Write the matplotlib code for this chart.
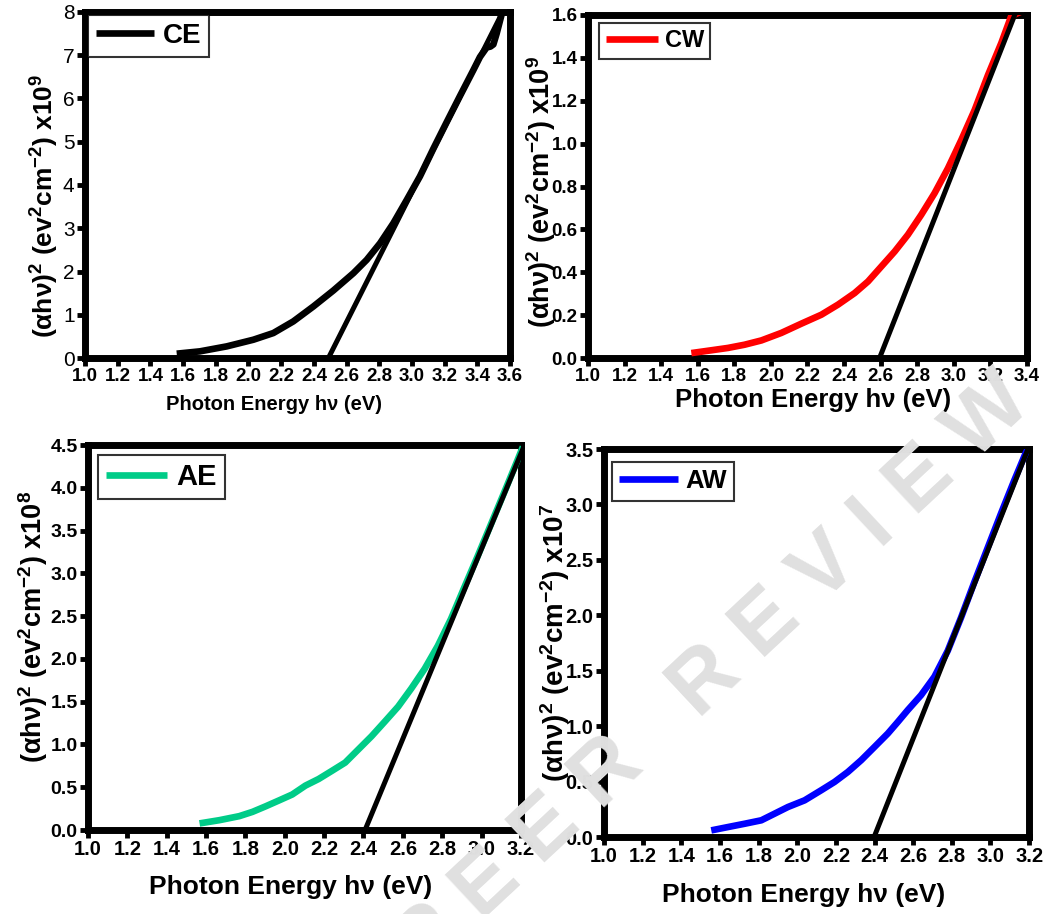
import matplotlib
matplotlib.use("Agg")
import matplotlib.pyplot as plt
import numpy as np

plt.rcParams['font.family'] = ['Liberation Sans', 'DejaVu Sans']
plt.rcParams['mathtext.default'] = 'regular'

# ---------------- data ----------------
ce_x = [1.561, 1.703, 1.867, 2.030, 2.152, 2.274, 2.397, 2.519, 2.642, 2.723, 2.805, 2.886, 2.968,
        3.049, 3.131, 3.212, 3.294, 3.376, 3.416, 3.457, 3.480, 3.498, 3.518, 3.549]
ce_y = [0.10, 0.154, 0.269, 0.423, 0.577, 0.846, 1.192, 1.56, 1.962, 2.269, 2.654, 3.115, 3.654,
        4.20, 4.84, 5.45, 6.06, 6.66, 6.96, 7.18, 7.20, 7.25, 7.50, 7.95]
ce_fit_x = [2.489, 3.56]
ce_fit_y = [0.0, 8.04]

cw_x = [1.565, 1.674, 1.765, 1.856, 1.948, 2.057, 2.166, 2.276, 2.367, 2.458, 2.531, 2.604, 2.677,
        2.749, 2.822, 2.895, 2.968, 3.041, 3.114, 3.187, 3.260, 3.314, 3.38]
cw_y = [0.023, 0.036, 0.047, 0.062, 0.082, 0.117, 0.160, 0.202, 0.249, 0.303, 0.357, 0.427, 0.497,
        0.575, 0.668, 0.769, 0.885, 1.017, 1.157, 1.32, 1.47, 1.595, 1.62]
cw_fit_x = [2.594, 3.34]
cw_fit_y = [0.0, 1.615]

ae_x = [1.567, 1.668, 1.769, 1.836, 1.903, 1.971, 2.038, 2.105, 2.172, 2.240, 2.307, 2.374, 2.441,
        2.509, 2.576, 2.643, 2.711, 2.778, 2.845, 2.913, 2.980, 3.047, 3.114, 3.182, 3.21]
ae_y = [0.077, 0.115, 0.162, 0.212, 0.277, 0.346, 0.415, 0.519, 0.596, 0.692, 0.788, 0.942, 1.096,
        1.269, 1.442, 1.654, 1.885, 2.154, 2.47, 2.84, 3.20, 3.57, 3.94, 4.32, 4.48]
ae_fit_x = [2.408, 3.22]
ae_fit_y = [0.0, 4.51]

aw_x = [1.555, 1.641, 1.728, 1.814, 1.883, 1.952, 2.038, 2.124, 2.193, 2.262, 2.331, 2.400, 2.469,
        2.521, 2.572, 2.641, 2.710, 2.779, 2.848, 2.917, 2.986, 3.055, 3.124, 3.184, 3.20]
aw_y = [0.060, 0.090, 0.120, 0.151, 0.211, 0.271, 0.331, 0.422, 0.497, 0.587, 0.693, 0.813, 0.934,
        1.039, 1.145, 1.280, 1.446, 1.68, 1.98, 2.30, 2.61, 2.92, 3.22, 3.47, 3.52]
aw_fit_x = [2.391, 3.21]
aw_fit_y = [-0.03, 3.57]

labels = ['CE', 'CW', 'AE', 'AW']
colors = ['#000000', '#ff0000', '#00cc88', '#0000ff']
exponents = ['9', '9', '8', '7']

# ---------------- figure ----------------
fig = plt.figure(figsize=(10.56, 9.14), dpi=100)

panels = [
    dict(rect=[0.0805, 0.6083, 0.4025, 0.3786], x=ce_x, y=ce_y, fx=ce_fit_x, fy=ce_fit_y,
         xlim=(1.0, 3.6), ylim=(0, 8), yticks=np.arange(0, 9, 1), yfmt='{:.0f}',
         xtick_fs=13.5, ytick_fs=15, ytick_w='normal', xl_fs=14.5, yl_fs=19,
         xl_pos=(0.445, -0.133), yl_pos=(-0.094, 0.44), leg_anchor=(0.007, 0.991), leg_fs=20, hl=2.1),
    dict(rect=[0.5568, 0.6083, 0.4157, 0.3753], x=cw_x, y=cw_y, fx=cw_fit_x, fy=cw_fit_y,
         xlim=(1.0, 3.4), ylim=(0, 1.6), yticks=np.arange(0, 1.61, 0.2), yfmt='{:.1f}',
         xtick_fs=13.5, ytick_fs=13.5, ytick_w='bold', xl_fs=18.5, yl_fs=19.5,
         xl_pos=(0.513, -0.122), yl_pos=(-0.107, 0.484), leg_anchor=(0.025, 0.977), leg_fs=17, hl=2.2),
    dict(rect=[0.0833, 0.0919, 0.4100, 0.4212], x=ae_x, y=ae_y, fx=ae_fit_x, fy=ae_fit_y,
         xlim=(1.0, 3.2), ylim=(0, 4.5), yticks=np.arange(0, 4.51, 0.5), yfmt='{:.1f}',
         xtick_fs=14.5, ytick_fs=14, ytick_w='bold', xl_fs=19, yl_fs=19.5,
         xl_pos=(0.467, -0.148), yl_pos=(-0.127, 0.527), leg_anchor=(0.023, 0.974), leg_fs=21, hl=2.1),
    dict(rect=[0.5720, 0.0842, 0.4025, 0.4245], x=aw_x, y=aw_y, fx=aw_fit_x, fy=aw_fit_y,
         xlim=(1.0, 3.2), ylim=(0, 3.5), yticks=np.arange(0, 3.51, 0.5), yfmt='{:.1f}',
         xtick_fs=14.5, ytick_fs=14.5, ytick_w='bold', xl_fs=19, yl_fs=20,
         xl_pos=(0.47, -0.15), yl_pos=(-0.115, 0.50), leg_anchor=(0.018, 0.966), leg_fs=18.5, hl=2.3),
]

for i, p in enumerate(panels):
    ax = fig.add_axes(p['rect'])
    ax.plot(p['x'], p['y'], color=colors[i], lw=4.8, solid_capstyle='butt', solid_joinstyle='round',
            label=labels[i], zorder=3)
    ax.plot(p['fx'], p['fy'], color='black', lw=3.6, solid_capstyle='butt', zorder=4)
    ax.set_xlim(*p['xlim'])
    ax.set_ylim(*p['ylim'])
    xt = np.round(np.arange(p['xlim'][0], p['xlim'][1] + 0.001, 0.2), 1)
    ax.set_xticks(xt)
    ax.set_xticklabels(['{:.1f}'.format(v) for v in xt], fontsize=p['xtick_fs'], fontweight='bold')
    ax.set_yticks(p['yticks'])
    ax.set_yticklabels([p['yfmt'].format(v) for v in p['yticks']], fontsize=p['ytick_fs'],
                       fontweight=p['ytick_w'])
    for s in ax.spines.values():
        s.set_linewidth(5)
        s.set_color('black')
    ax.tick_params(axis='both', direction='out', length=5.5, width=3.5, color='black', pad=2)
    ax.tick_params(top=False, right=False)

    ax.set_xlabel('Photon Energy hν (eV)', fontsize=p['xl_fs'], fontweight='bold', va='center')
    ax.xaxis.set_label_coords(*p['xl_pos'])
    ax.set_ylabel('(αhν)$^{2}$ (ev$^{2}$cm$^{-2}$) x10$^{' + exponents[i] + '}$',
                  fontsize=p['yl_fs'], fontweight='bold', va='center')
    ax.yaxis.set_label_coords(*p['yl_pos'])

    leg = ax.legend(loc='upper left', bbox_to_anchor=p['leg_anchor'], borderaxespad=0,
                    prop={'weight': 'bold', 'size': p['leg_fs']}, frameon=True, fancybox=False,
                    handlelength=p['hl'], handletextpad=0.3, borderpad=0.28)
    leg.get_frame().set_edgecolor('black')
    leg.get_frame().set_linewidth(1.5)
    for ln in leg.get_lines():
        ln.set_linewidth(4.8)

# watermark
fig.text(0.675, 0.262, 'P E E R   R E V I E W', fontsize=62, fontweight='bold', color='#e0e0e0',
         rotation=43, rotation_mode='anchor', ha='center', va='center', zorder=10)

fig.savefig('out.png', dpi=100)
